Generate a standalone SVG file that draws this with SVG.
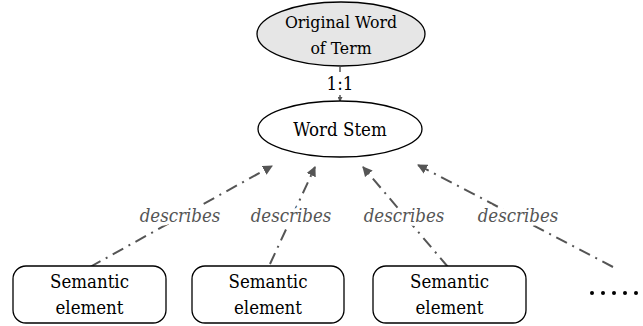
<svg xmlns="http://www.w3.org/2000/svg" width="643" height="326" viewBox="0 0 643 326">
<style>
.n{fill:#fff;stroke:#000;stroke-width:1.3}
.t{font-family:"DejaVu Serif",serif;font-stretch:condensed;font-size:18.5px;fill:#000;text-anchor:middle}
.c{stroke:#555;stroke-width:2;fill:none;stroke-dasharray:12,6,2,6;marker-end:url(#ah)}
.lbl{font-family:"DejaVu Serif",serif;font-stretch:condensed;font-style:italic;font-size:18.5px;fill:#555;text-anchor:middle;stroke:#fff;stroke-width:7;paint-order:stroke}
</style>
<defs>
<marker id="ah" markerWidth="10" markerHeight="10" refX="9" refY="5" orient="auto" markerUnits="userSpaceOnUse">
<path d="M0,0 L10,5 L0,10 Z" fill="#555"/>
</marker>
<marker id="ah2" markerWidth="5" markerHeight="5" refX="4" refY="2.5" orient="auto" markerUnits="userSpaceOnUse">
<path d="M0,0 L5,2.5 L0,5 Z" fill="#555"/>
</marker>
</defs>
<g id="connectors">
<line x1="340" y1="67" x2="340" y2="72" stroke="#555" stroke-width="1.5"/>
<line x1="340" y1="95" x2="340" y2="101" stroke="#555" stroke-width="1.5" marker-end="url(#ah2)"/>
<text class="t" x="340" y="90">1:1</text>
<line class="c" x1="90" y1="267" x2="272" y2="166"/>
<line class="c" x1="270" y1="264" x2="315" y2="167"/>
<line class="c" x1="448" y1="267" x2="363" y2="167"/>
<line class="c" x1="613" y1="267" x2="418" y2="165"/>
<text class="lbl" x="180" y="222">describes</text>
<text class="lbl" x="291" y="222">describes</text>
<text class="lbl" x="404" y="222">describes</text>
<text class="lbl" x="518" y="222">describes</text>
</g>
<g id="original">
<ellipse cx="341" cy="34" rx="84" ry="32" fill="#e6e6e6" stroke="#000" stroke-width="1.3"/>
<text class="t" x="341" y="28" style="font-size:17.5px">Original Word</text>
<text class="t" x="341" y="54" style="font-size:17.5px">of Term</text>
</g>
<g id="stem">
<ellipse class="n" cx="340" cy="129" rx="82" ry="28"/>
<text class="t" x="340" y="136">Word Stem</text>
</g>
<g id="sem1">
<rect class="n" x="13" y="266" width="153" height="57" rx="13"/>
<text class="t" x="89.5" y="288">Semantic</text>
<text class="t" x="89.5" y="314">element</text>
</g>
<g id="sem2">
<rect class="n" x="192" y="266" width="152" height="57" rx="13"/>
<text class="t" x="268" y="288">Semantic</text>
<text class="t" x="268" y="314">element</text>
</g>
<g id="sem3">
<rect class="n" x="373" y="266" width="153" height="57" rx="13"/>
<text class="t" x="449.5" y="288">Semantic</text>
<text class="t" x="449.5" y="314">element</text>
</g>
<g id="more" fill="#000">
<circle cx="592" cy="293" r="2"/>
<circle cx="603" cy="293" r="2"/>
<circle cx="614" cy="293" r="2"/>
<circle cx="625" cy="293" r="2"/>
<circle cx="636" cy="293" r="2"/>
</g>
</svg>
